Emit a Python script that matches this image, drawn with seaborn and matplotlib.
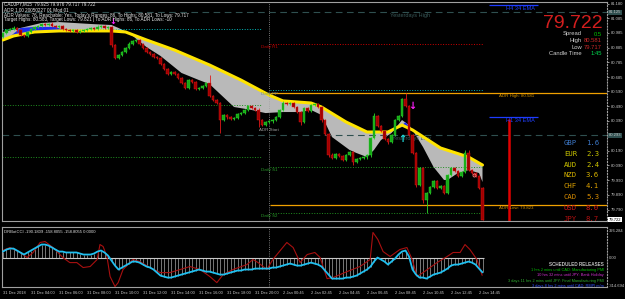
import numpy as np
import matplotlib
matplotlib.use("Agg")
import matplotlib.pyplot as plt
import seaborn as sns

# ---------------- data ----------------
first_open = 80.957
closes = [80.984, 81.004, 81.011, 81.018, 81.004, 80.970, 80.964, 80.991, 81.011, 81.025,
          81.031, 81.045, 81.038, 81.045, 81.031, 81.025, 81.031, 81.011, 81.004, 80.998,
          81.004, 80.991, 80.998, 81.004, 81.011, 81.018, 81.011, 81.025, 81.031, 81.018,
          81.025, 80.903, 80.815, 80.835, 80.856, 80.883, 80.910, 80.930, 80.937, 80.910,
          80.883, 80.856, 80.842, 80.822, 80.815, 80.775, 80.741, 80.707, 80.720, 80.707,
          80.680, 80.646, 80.612, 80.666, 80.653, 80.606, 80.612, 80.626, 80.646, 80.558,
          80.531, 80.511, 80.396, 80.430, 80.416, 80.403, 80.410, 80.437, 80.443, 80.464,
          80.491, 80.477, 80.464, 80.396, 80.362, 80.383, 80.389, 80.396, 80.416, 80.464,
          80.511, 80.504, 80.511, 80.484, 80.450, 80.383, 80.477, 80.457, 80.498, 80.504,
          80.484, 80.396, 80.302, 80.160, 80.139, 80.166, 80.153, 80.126, 80.160, 80.180,
          80.112, 80.133, 80.139, 80.146, 80.160, 80.275, 80.423, 80.356, 80.322, 80.268,
          80.248, 80.295, 80.396, 80.423, 80.538, 80.491, 80.295, 80.173, 79.957, 80.072,
          79.856, 79.903, 79.943, 79.984, 79.937, 79.950, 79.903, 80.024, 80.072, 80.052,
          80.018, 80.045, 80.173, 80.058, 80.038, 80.018, 79.937, 79.722]
upper_wick_pts = [8, 6, 8, 10, 6, 8, 5, 8, 6, 8,
                  10, 8, 6, 8, 10, 8, 6, 8, 8, 6,
                  8, 10, 6, 8, 8, 6, 8, 10, 8, 6,
                  8, 5, 8, 6, 8, 8, 12, 8, 6, 8,
                  8, 6, 8, 10, 8, 6, 8, 8, 10, 6,
                  8, 6, 8, 10, 8, 6, 8, 8, 6, 54,
                  8, 6, 8, 10, 8, 6, 8, 8, 10, 6,
                  8, 6, 8, 10, 8, 6, 8, 8, 6, 8,
                  12, 8, 6, 8, 8, 6, 8, 10, 8, 6,
                  8, 6, 8, 8, 10, 6, 8, 8, 6, 8,
                  8, 6, 8, 10, 8, 5, 20, 8, 6, 8,
                  8, 6, 8, 8, 10, 40, 8, 6, 8, 8,
                  5, 8, 6, 8, 10, 8, 6, 8, 8, 6,
                  8, 6, 20, 20, 8, 6, 8, 8]
lower_wick_pts = [8, 6, 8, 6, 10, 8, 6, 8, 6, 8,
                  6, 8, 10, 6, 8, 8, 6, 10, 8, 6,
                  8, 6, 8, 10, 6, 8, 8, 6, 8, 10,
                  6, 14, 8, 10, 6, 8, 8, 6, 8, 10,
                  6, 8, 8, 6, 10, 8, 6, 8, 8, 6,
                  10, 8, 6, 8, 8, 10, 6, 8, 6, 8,
                  8, 6, 88, 8, 10, 6, 8, 8, 6, 8,
                  6, 8, 10, 47, 8, 6, 8, 10, 8, 6,
                  8, 6, 8, 10, 8, 20, 6, 8, 8, 6,
                  8, 10, 8, 14, 6, 8, 8, 10, 6, 8,
                  20, 8, 6, 8, 10, 14, 8, 6, 8, 10,
                  15, 8, 6, 6, 8, 8, 10, 6, 14, 8,
                  20, 88, 8, 6, 8, 10, 8, 6, 8, 8,
                  6, 8, 8, 6, 10, 8, 8, 2]
POINT = 0.001

ema_idx = [0, 3, 9, 16, 31, 35, 41, 49, 59, 68, 76, 80, 88, 91, 98, 104, 110, 114, 117, 125, 133, 137]
ema_val = [80.937, 80.964, 80.991, 80.998, 80.998, 80.991, 80.937, 80.869, 80.768, 80.666, 80.565,
           80.525, 80.511, 80.484, 80.383, 80.315, 80.315, 80.362, 80.329, 80.207, 80.146, 80.092]
band_idx = [0, 5, 11, 16, 25, 31, 33, 36, 41, 45, 51, 56, 59, 66, 71, 75, 80, 85, 88, 91,
            94, 99, 101, 104, 106, 108, 111, 114, 116, 117, 120, 123, 126, 127, 130, 133, 136, 137]
band_val = [80.991, 81.018, 81.052, 81.058, 81.045, 81.038, 81.018, 80.984, 80.889, 80.829,
            80.714, 80.666, 80.639, 80.484, 80.464, 80.443, 80.450, 80.450, 80.464, 80.430,
            80.281, 80.194, 80.173, 80.146, 80.194, 80.261, 80.308, 80.396, 80.362, 80.329,
            80.214, 80.079, 79.991, 79.991, 80.038, 80.058, 80.038, 79.977]
blue1_idx = [2, 5, 9, 15, 18]
blue1_top = [80.960, 81.018, 81.025, 81.025, 80.998]
blue1_bot = [80.955, 80.975, 80.991, 80.998, 80.998]
blue2_idx = [113.3, 115, 116.3]
blue2_top = [80.345, 80.383, 80.345]
blue2_bot = [80.345, 80.352, 80.345]

cci_fast = [64, 86, 96, 96, 75, 54, 32, 54, 75, 96,
            118, 139, 139, 128, 107, 86, 64, 64, 54, 54,
            54, 54, 43, 32, 32, 32, 43, 64, 75, 54,
            21, -32, -86, -128, -107, -86, -64, -43, -43, -54,
            -75, -96, -107, -128, -161, -193, -203, -214, -214, -203,
            -193, -182, -171, -161, -150, -139, -128, -139, -150, -150,
            -161, -171, -182, -182, -171, -161, -150, -139, -139, -128,
            -128, -128, -118, -118, -118, -118, -118, -107, -107, -96,
            -86, -75, -64, -75, -86, -86, -75, -64, -54, -64,
            -75, -96, -139, -182, -225, -225, -225, -225, -214, -214,
            -203, -193, -171, -150, -128, -96, -43, 0, -21, -43,
            -75, -43, -11, 32, 64, 75, 11, -128, -182, -214,
            -214, -225, -203, -182, -171, -161, -139, -118, -86, -75,
            -75, -64, -54, -43, -54, -75, -118, -158.8]
cci_slow_idx = [-0.9, 2.0, 4.9, 6.9, 8.6, 10.6, 12.0, 14.3, 17.1, 19.1, 21.1, 22.9, 24.9, 26.9, 27.7,
                28.6, 29.7, 30.6, 32.0, 32.9, 34.3, 37.1, 39.1, 42.0, 44.9, 47.7, 50.6, 53.4, 56.3,
                59.1, 61.1, 62.9, 65.7, 69.7, 71.4, 72.9, 75.4, 77.1, 81.1, 82.9, 84.9, 86.9, 89.1,
                90.6, 92.6, 94.3, 98.3, 102.0, 104.9, 105.7, 107.1, 108.6, 110.6, 113.4, 115.4,
                116.9, 118.3, 120.0, 124.0, 126.9, 128.6, 130.6, 132.0, 133.4, 135.4, 136.9]
cci_slow_val = [64, 107, 54, 0, 54, 161, 171, 107, 0, -54, -54, -107, -96, -21, 139,
                118, 11, -203, -310, -268, -128, -21, -43, -107, -161, -161, -128, -96, -128,
                -203, -268, -182, -128, -75, -21, -54, -128, -21, 161, 107, -54, 32, 54,
                0, -225, -214, -150, -96, -21, 268, 193, 64, 11, 86, 107,
                -21, -203, -161, -54, 11, 54, 54, 139, 86, -21, -190]

time_tick_idx = [0, 8, 16, 24, 32, 40, 48, 56, 64, 72, 80, 88, 96, 104, 112, 120, 128, 136]
time_tick_labels = ["31 Dec 2018", "31 Dec 04:00", "31 Dec 06:00", "31 Dec 08:00", "31 Dec 10:00",
                    "31 Dec 12:00", "31 Dec 14:00", "31 Dec 16:00", "31 Dec 18:00", "31 Dec 20:00",
                    "2 Jan 00:45", "2 Jan 02:45", "2 Jan 04:45", "2 Jan 06:45", "2 Jan 08:45",
                    "2 Jan 10:45", "2 Jan 12:45", "2 Jan 14:45"]
price_ticks = [81.180, 81.085, 80.985, 80.885, 80.785, 80.685, 80.590, 80.490, 80.390,
               80.190, 80.090, 79.990, 79.890, 79.790]
day_start_idx = 76

yesterday_high, yesterday_low = 81.125, 80.293
adr_high, adr_low = 80.581, 79.823
daily_r1, daily_pp, daily_s1, daily_s2 = 80.910, 80.599, 80.079, 79.768
prev_pp, prev_s1, prev_s2 = 81.011, 80.498, 80.146
h4_ema, h1_ema = 81.173, 80.416
last_price = 79.722

currencies = ["GBP", "EUR", "AUD", "NZD", "CHF", "CAD", "USD", "JPY"]
strength = [1.6, 2.3, 2.4, 3.6, 4.1, 5.3, 8.0, 8.7]
currency_colors = ["#3c78c8", "#c8c400", "#d2c800", "#d8b400", "#dca000", "#d88c00", "#d01818", "#b01010"]

releases = ["1 hrs 2 mins until CAD: Manufacturing PMI",
            "10 hrs 32 mins until JPY: Bank Holiday",
            "3 days 11 hrs 2 mins until JPY: Final Manufacturing PMI",
            "3 days 8 hrs 2 mins until CAD: RMPI m/m"]
release_colors = ["#00c000", "#d030d0", "#30b030", "#3050ff"]

# ---------------- figure ----------------
sns.set_style("dark")
plt.rcParams['font.family'] = ['DejaVu Sans']
W, H = 625, 299
fig = plt.figure(figsize=(6.25, 2.99), dpi=100, facecolor='black')
SMALL = ['Liberation Sans']


def px_axes(x0, y0, x1, y1):
    return fig.add_axes([x0 / W, 1 - y1 / H, (x1 - x0) / W, (y1 - y0) / H])


def ftext(x, y, s, **kw):
    kw.setdefault('va', 'center')
    fig.text(x / W, 1 - y / H, s, **kw)


ax = px_axes(2, 2, 607, 221)
ax2 = px_axes(2, 227, 607, 287)
XL = (-0.2857, 172.57)
for a in (ax, ax2):
    a.set_facecolor('black')
    a.grid(False)
    a.set_xlim(*XL)
    for s in a.spines.values():
        s.set_color('#a0a0a0')
        s.set_linewidth(0.8)
    a.spines['right'].set_linestyle(':')
ax.set_ylim(79.7137, 81.1935)
ax2.set_ylim(-314.694, 326.284)

# grey/blue clouds
poly_x = list(ema_idx) + list(band_idx[::-1])
poly_y = list(ema_val) + list(band_val[::-1])
ax.fill(poly_x, poly_y, color='#b9b9b9', lw=0, zorder=1)
ax.fill(blue1_idx + blue1_idx[::-1], blue1_top + blue1_bot[::-1], color='#1c2cf0', lw=0, zorder=2)
ax.fill(blue2_idx + blue2_idx[::-1], blue2_top + blue2_bot[::-1], color='#1c2cf0', lw=0, zorder=2)
sns.lineplot(x=ema_idx, y=ema_val, ax=ax, color='#ffe400', lw=2.2, zorder=3)

# level lines
ax.axhline(yesterday_high, color='#2f4f4f', lw=0.8, ls=(0, (6, 4)), zorder=1.5)
ax.axhline(yesterday_low, color='#2f4f4f', lw=0.8, ls=(0, (6, 4)), zorder=1.5)
ax.hlines([adr_high, adr_low], 76.3, XL[1], color='#f0a000', lw=0.9, zorder=1.5)
ax.hlines(daily_r1, 76.3, 137, color='#d00000', lw=0.7, ls=':', zorder=1.5)
ax.hlines(daily_pp, 76.3, 137, color='#00b8b8', lw=0.7, ls=':', zorder=1.5)
ax.hlines([daily_s1, daily_s2], 76.3, 137, color='#209020', lw=0.7, ls=':', zorder=1.5)
ax.hlines(prev_pp, XL[0], 74, color='#00b8b8', lw=0.7, ls=':', zorder=1.5)
ax.hlines([prev_s1, prev_s2], XL[0], 74, color='#209020', lw=0.7, ls=':', zorder=1.5)
ax.hlines([h4_ema, h1_ema], 138.9, 152.9, color='#1e3cff', lw=0.9, zorder=1.5)
ax.vlines(144.6, ax.get_ylim()[0], 80.403, color='#e00000', lw=1.8, zorder=4)
for a in (ax, ax2):
    a.axvline(day_start_idx, color='#a0a0a0', lw=0.6, ls=':', zorder=1.2)

# label texts behind candles
ax.text(111.1, 80.268, "Yesterdays Low", fontsize=4, color='#3a5a5a', va='center', ha='left',
        zorder=1.6, family=SMALL)

# candles
o = np.array([first_open] + closes[:-1])
c = np.array(closes)
idx = np.arange(len(c))
hi = np.maximum(o, c) + np.array(upper_wick_pts) * POINT
lo = np.minimum(o, c) - np.array(lower_wick_pts) * POINT
up = c >= o
dn = ~up
ax.vlines(idx[up], lo[up], hi[up], color='#2ad82a', lw=0.6, zorder=5)
ax.vlines(idx[dn], lo[dn], hi[dn], color='#e01818', lw=0.6, zorder=5)
body = np.maximum(np.abs(c - o), 0.003)
bot = np.minimum(o, c)
ax.bar(idx[up], body[up], bottom=bot[up], width=0.75, color='#16a816', edgecolor='#2ad82a', lw=0.3, zorder=6)
ax.bar(idx[dn], body[dn], bottom=bot[dn], width=0.75, color='#a00000', edgecolor='#e01818', lw=0.3, zorder=6)

# markers
ax.text(116.9, 80.491, '↓', color='#ff20ff', fontsize=7, fontweight='bold', ha='center', va='center', zorder=7)
ax.text(31.4, 81.065, '↓', color='#ff20ff', fontsize=6, fontweight='bold', ha='center', va='center', zorder=7)
ax.text(114, 80.270, '↑', color='#20e0e0', fontsize=7, fontweight='bold', ha='center', va='center', zorder=7)
ax.plot([134.6], [80.024], marker='o', ms=2.2, mfc='none', mec='#ff8080', mew=0.6, zorder=7)

# right price axis
ax.set_xticks([])
ax.set_yticks(price_ticks)
ax.set_yticklabels([f"{p:.3f}" for p in price_ticks], family=SMALL)
ax.tick_params(axis='y', left=False, right=True, labelleft=False, labelright=True,
               labelsize=3.0, colors='#c8c8c8', length=1.5, pad=1, width=0.5)
ytr = ax.get_yaxis_transform()
box_kw = dict(transform=ytr, fontsize=3.0, va='center', ha='left', clip_on=False, family=SMALL)
ax.text(1.003, yesterday_high, f"{yesterday_high:.3f}", color='#c8c8c8',
        bbox=dict(boxstyle='square,pad=0.12', fc='#2f4f4f', ec='none'), **box_kw)
ax.text(1.003, yesterday_low, f"{yesterday_low:.3f}", color='#c8c8c8',
        bbox=dict(boxstyle='square,pad=0.12', fc='#2f4f4f', ec='none'), **box_kw)
ax.text(1.003, last_price, f"{last_price:.3f}", color='black',
        bbox=dict(boxstyle='square,pad=0.12', fc='white', ec='none'), **box_kw)

# lower panel
ax2.vlines(idx, 0, cci_fast, color='#b8b8b8', lw=0.45, zorder=1)
ax2.hlines(0, XL[0], 137.5, color='#c8c8c8', lw=0.8, zorder=1)
sns.lineplot(x=cci_slow_idx, y=cci_slow_val, ax=ax2, color='#a81010', lw=0.8, zorder=2)
sns.lineplot(x=list(idx), y=cci_fast, ax=ax2, color='#20c0f0', lw=1.3, zorder=3)
ax2.set_yticks([])
ax2.set_xticks(time_tick_idx)
ax2.set_xticklabels(time_tick_labels, ha='left', family=SMALL)
ax2.tick_params(axis='x', labelsize=2.9, colors='#c8c8c8', length=2, pad=1, width=0.5)
ax.set_xlabel(''); ax.set_ylabel(''); ax2.set_xlabel(''); ax2.set_ylabel('')
ftext(609, 231, "326.284", fontsize=3.0, color='#c8c8c8', family=SMALL)
ftext(609, 258, "0.00", fontsize=3.0, color='#c8c8c8', family=SMALL)
ftext(609, 286, "-314.694", fontsize=3.0, color='#c8c8c8', family=SMALL)
ftext(4, 232, "DRBotCCI -190.1809 -158.8055 -158.8055 0.0000", fontsize=3.0, color='#e0e0e0', family=SMALL)

# texts on main chart
ftext(4, 4, "CADJPY,M15  79.925 79.976 79.717 79.722", fontsize=3.3, color='#e8e8e8', family=SMALL)
ftext(4, 10, "ADR 1.00 20050227 01 Mod 01", fontsize=3.3, color='#e8e8e8', family=SMALL)
ftext(4, 15, "ADR Values: 76, Reachable: Yes, Today's Ranges: 86, To Highs: 80.581, To Lows: 79.717",
      fontsize=3.3, color='#e8e8e8', family=SMALL)
ftext(4, 20, "Target Highs: 80.583, Target Lows: 79.821 | To ADR Highs: 86, To ADR Lows: -10",
      fontsize=3.3, color='#e8e8e8', family=SMALL)
ftext(390, 16, "Yesterdays High", fontsize=4, color='#3a5a5a', family=SMALL)
ftext(261, 47, "Daily R1", fontsize=3.2, color='#c00000', family=SMALL)
ftext(261, 94, "Daily PP", fontsize=3.2, color='#708888', family=SMALL)
ftext(259, 130, "ADR Start", fontsize=3.2, color='#a0a0a0', family=SMALL)
ftext(261, 170, "Daily S1", fontsize=3.2, color='#2a9a2a', family=SMALL)
ftext(261, 216, "Daily S2", fontsize=3.2, color='#2a9a2a', family=SMALL)
ftext(499, 96, "ADR High: 80.581", fontsize=3.2, color='#d09000', family=SMALL)
ftext(499, 208, "ADR Low: 79.823", fontsize=3.2, color='#d09000', family=SMALL)
ftext(520, 8, "H4 34 EMA", fontsize=4, color='#2040ff', ha='center', family=SMALL)
ftext(520, 121, "H1 34 EMA", fontsize=4, color='#2040ff', ha='center', family=SMALL)

ftext(603, 23, "79.722", fontsize=14, color='#d21e1e', ha='right', family=SMALL)
info = [("Spread", "0.5", '#00c800'), ("High", "80.581", '#c82828'),
        ("Low", "79.717", '#c82828'), ("Candle Time", "1:45", '#00dc50')]
for k, (lab, val, col) in enumerate(info):
    yy = 34 + k * 6.6
    ftext(582, yy, lab, fontsize=4.2, color='#d0d0d0', ha='right', family=SMALL)
    ftext(602, yy, val, fontsize=4.2, color=col, ha='right', family=SMALL)

for k, (cur, val, col) in enumerate(zip(currencies, strength, currency_colors)):
    yy = 143 + k * 10.8
    ftext(564, yy, cur, fontsize=5.2, color=col, family=['DejaVu Sans Mono'])
    ftext(586, yy, f"{val:.1f}", fontsize=5.2, color=col, family=['DejaVu Sans Mono'])

ftext(604, 264, "SCHEDULED RELEASES", fontsize=3.3, color='#c0c0c0', ha='right', fontweight='bold',
      family=SMALL)
for k, (txt, col) in enumerate(zip(releases, release_colors)):
    ftext(604, 270 + k * 5.4, txt, fontsize=2.8, color=col, ha='right', family=SMALL)

fig.savefig("out.png", dpi=100, facecolor='black')
